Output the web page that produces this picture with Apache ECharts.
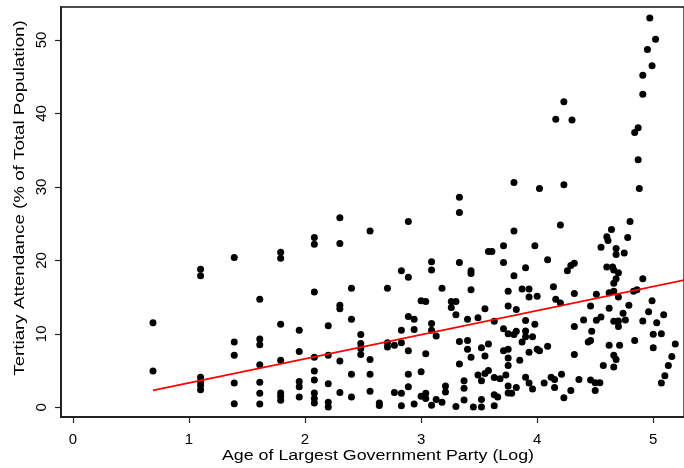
<!DOCTYPE html>
<html>
<head>
<meta charset="utf-8">
<script src="https://cdn.jsdelivr.net/npm/echarts@6/dist/echarts.min.js"></script>
<style>
  html, body { margin: 0; padding: 0; background: #fff; }
  #chart { width: 684px; height: 468px; }
</style>
</head>
<body>
<div id="chart"></div>
<script>
// Party age (log scale) at which observations sit
const ageLog = [
  0.69, 1.10, 1.39, 1.61, 1.79, 1.95, 2.08, 2.20, 2.30, 2.40,
  2.48, 2.56, 2.64, 2.71, 2.77, 2.83, 2.89, 2.94, 3.00, 3.04,
  3.09, 3.13, 3.18, 3.21, 3.26, 3.30, 3.33, 3.37, 3.40, 3.43,
  3.45, 3.49, 3.52, 3.55, 3.58, 3.61, 3.63, 3.66, 3.68, 3.71,
  3.73, 3.75, 3.78, 3.80, 3.82, 3.85, 3.87, 3.90, 3.93, 3.96,
  3.98, 4.00, 4.02, 4.06, 4.09, 4.12, 4.14, 4.15, 4.16, 4.20,
  4.21, 4.23, 4.26, 4.29, 4.30, 4.32, 4.36, 4.40, 4.44, 4.46,
  4.47, 4.50, 4.51, 4.54, 4.55, 4.57, 4.60, 4.61, 4.62, 4.64,
  4.65, 4.66, 4.68, 4.70, 4.71, 4.74, 4.75, 4.76, 4.78, 4.79,
  4.80, 4.83, 4.84, 4.86, 4.87, 4.88, 4.91, 4.95, 4.96, 4.97,
  4.99, 5.00, 5.02, 5.03, 5.07, 5.09, 5.10, 5.13, 5.16, 5.19
];

// Tertiary attendance (% of total population) observed at each party age above
const attendanceAtAge = [
  [11.5, 4.95], [18.8, 17.9, 4.1, 3.5, 3.0, 2.4], [20.4, 8.9, 7.1, 3.3, 0.5],
  [14.7, 9.3, 8.5, 5.8, 3.4, 1.9, 0.45], [21.1, 20.3, 11.3, 6.4, 1.95, 1.5, 0.95],
  [10.5, 7.6, 3.5, 2.8, 1.4], [23.1, 22.2, 15.7, 6.8, 4.95, 3.7, 1.95, 1.2, 0.6],
  [11.1, 7.1, 3.2, 0.7, 0.05], [25.8, 22.3, 13.9, 13.4, 6.3, 2.0], [16.2, 12.0, 4.5, 1.4],
  [9.9, 8.7, 8.0, 7.2], [24.0, 6.5, 4.5, 2.2], [0.6, 0.25], [16.2, 8.8, 8.2], [8.45, 2.0],
  [18.6, 10.5, 8.8, 1.9, 0.2], [25.3, 17.7, 12.35, 7.7, 4.5, 2.8], [12.0, 10.6, 0.45],
  [14.5, 4.85, 1.5], [14.4, 7.3, 1.9, 1.2],
  [19.8, 18.7, 11.4, 10.5, 0.27], [9.7, 1.05], [16.2, 0.7], [2.9, 2.1], [14.4, 13.6],
  [14.4, 12.6, 0.1], [28.6, 26.5, 19.7, 8.95, 5.9], [3.6, 2.6, 1.0], [12.0, 9.1, 7.9],
  [18.6, 18.2, 16.0, 6.8],
  [0.05], [12.2, 4.4], [8.1, 3.6, 1.05, 0.05], [13.4, 7.0, 4.6], [21.2, 8.6, 5.0], [21.2],
  [11.7, 4.05, 1.7, 0.2], [1.4], [3.9], [22.0, 19.7, 10.7, 7.7],
  [4.4], [15.8, 13.8, 10.0, 7.9, 6.7, 5.7, 2.9, 1.95], [1.9], [30.6, 24.0, 17.9, 9.9],
  [13.3, 10.35, 2.7], [6.4], [16.1, 8.9], [19.0, 11.8, 10.4, 9.6, 4.1],
  [16.1, 15.0, 7.5, 3.3], [9.6, 2.5],
  [22.0, 11.3], [15.1, 7.9], [29.8, 7.7], [3.3], [20.1, 8.3], [4.1], [16.4], [3.8, 2.7],
  [39.2, 14.7], [24.8, 14.2],
  [4.5], [41.6, 30.3, 1.3], [18.6], [19.3, 2.3], [39.1], [19.6, 15.5, 11.0, 7.2], [3.8],
  [11.9], [8.9], [13.8, 9.1, 3.7],
  [10.35], [3.35, 2.3], [15.4, 11.85], [3.35], [21.8, 12.3], [5.7], [23.2, 19.1], [22.7],
  [15.6, 13.5, 8.45], [24.2],
  [19.1], [18.7, 16.9, 15.8, 11.7, 7.1, 5.5], [21.6, 20.8, 17.5, 6.5], [18.3, 15.0, 11.75, 11.0],
  [8.45], [12.8], [21.0], [11.9], [23.1], [13.9],
  [25.3], [15.8], [37.4, 9.1], [16.0], [38.05, 33.7], [29.8], [45.2, 42.6, 17.5, 11.75],
  [48.7], [13.0], [53.0],
  [46.5, 14.5], [9.95, 8.1], [50.1], [11.5], [10.0, 3.3], [12.6], [4.3], [5.7], [6.9], [8.6]
];

// Linear fit: attendance = fitIntercept + fitSlope * ageLog, over the fitted age range
const fitIntercept = 0.04;
const fitSlope = 3.28;
const fitRange = [0.69, 5.3];

// Tick labels
const xTicks = [0, 1, 2, 3, 4, 5];
const yTicks = [0, 10, 20, 30, 40, 50];

const points = [];
ageLog.forEach((a, i) => {
  attendanceAtAge[i].forEach(v => points.push([a, v]));
});
const fitLine = fitRange.map(a => [a, fitIntercept + fitSlope * a]);

const chart = echarts.init(document.getElementById('chart'), null, { renderer: 'canvas' });
const font = 'Liberation Sans, Arial, Helvetica, sans-serif';

chart.setOption({
  animation: false,
  backgroundColor: '#ffffff',
  grid: {
    left: 61, top: 7, right: -5, bottom: 51,
    show: true, borderColor: '#111', borderWidth: 1.3, backgroundColor: 'transparent'
  },
  xAxis: {
    type: 'value', min: -0.1026, max: 5.265,
    axisLine: { show: true, onZero: false, lineStyle: { color: '#222', width: 2 } },
    axisTick: { show: true, inside: false, length: 6, customValues: xTicks, lineStyle: { color: '#222', width: 1.2 } },
    axisLabel: { customValues: xTicks, margin: 15, color: '#000', fontSize: 15, fontFamily: font },
    splitLine: { show: false }
  },
  yAxis: {
    type: 'value', min: -1.32, max: 54.49,
    axisLine: { show: true, onZero: false, lineStyle: { color: '#222', width: 2 } },
    axisTick: { show: true, inside: false, length: 6, customValues: yTicks, lineStyle: { color: '#222', width: 1.2 } },
    axisLabel: { customValues: yTicks, rotate: 90, margin: 12, color: '#000', fontSize: 15, fontFamily: font },
    splitLine: { show: false }
  },
  graphic: [
    {
      type: 'text', x: 378, y: 456, scaleX: 1.15,
      style: {
        text: 'Age of Largest Government Party (Log)',
        font: '15.5px ' + font, fill: '#000', align: 'center', verticalAlign: 'middle'
      }
    },
    {
      type: 'text', x: 20, y: 198, rotation: Math.PI / 2, scaleX: 1.21,
      style: {
        text: 'Tertiary Attendance (% of Total Population)',
        font: '15.5px ' + font, fill: '#000', align: 'center', verticalAlign: 'middle'
      }
    }
  ],
  series: [
    {
      type: 'scatter', data: points, symbol: 'circle', symbolSize: 7,
      itemStyle: { color: '#000', opacity: 1 }, clip: true
    },
    {
      type: 'line', data: fitLine, showSymbol: false, symbol: 'none',
      lineStyle: { color: '#ff0000', width: 1.6 }, clip: true, z: 3
    }
  ]
});
</script>
</body>
</html>
